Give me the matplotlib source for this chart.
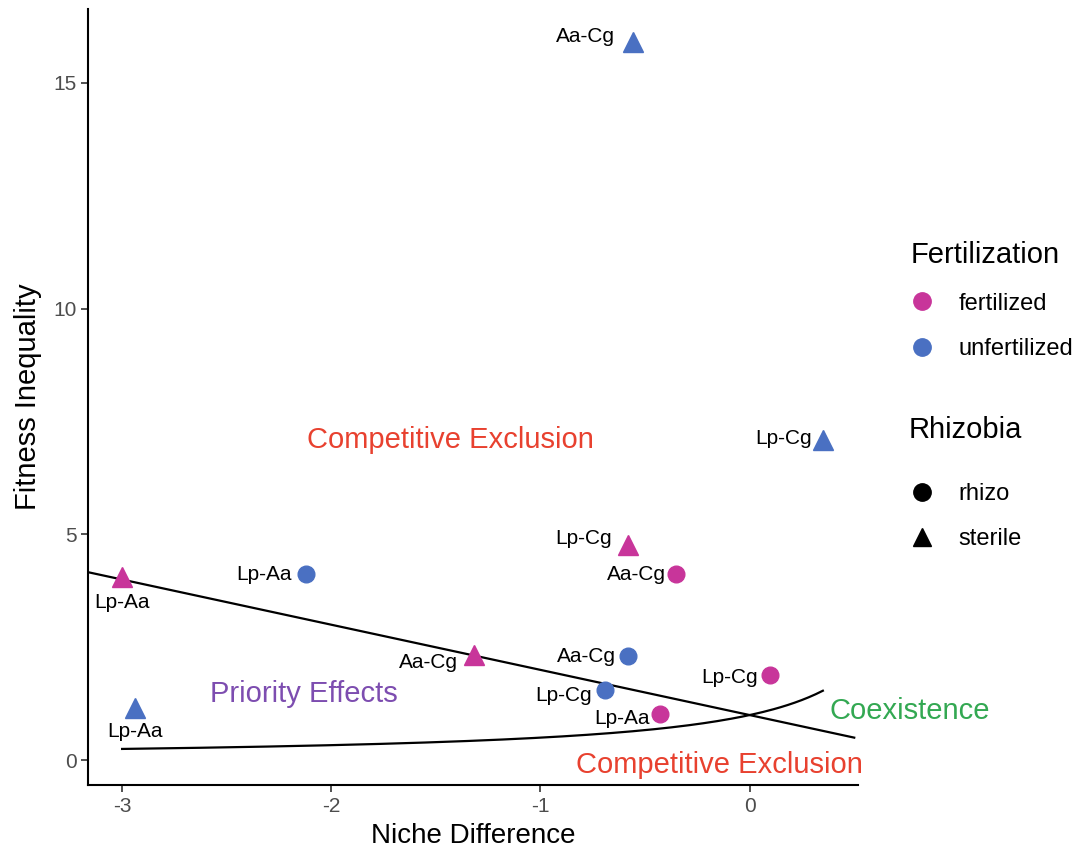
import numpy as np
import matplotlib
matplotlib.use("Agg")
import matplotlib.pyplot as plt
from matplotlib.lines import Line2D

plt.rcParams['font.family'] = ['Liberation Sans', 'DejaVu Sans']
plt.rcParams['axes.unicode_minus'] = False

# Pair data: niche difference, fitness inequality, fertilization, rhizobia
pairs = ['Aa-Cg', 'Lp-Cg', 'Lp-Cg', 'Aa-Cg', 'Lp-Aa', 'Lp-Aa',
         'Aa-Cg', 'Aa-Cg', 'Lp-Cg', 'Lp-Cg', 'Lp-Aa', 'Lp-Aa']
niche = [-0.56, 0.35, -0.58, -0.35, -3.0, -2.12,
         -1.32, -0.58, -0.69, 0.096, -0.43, -2.94]
fitness = [15.9, 7.1, 4.76, 4.12, 4.05, 4.12,
           2.32, 2.3, 1.55, 1.88, 1.02, 1.15]
fert = ['unfertilized', 'unfertilized', 'fertilized', 'fertilized', 'fertilized', 'unfertilized',
        'fertilized', 'unfertilized', 'unfertilized', 'fertilized', 'fertilized', 'unfertilized']
rhizo = ['sterile', 'sterile', 'sterile', 'rhizo', 'sterile', 'rhizo',
         'sterile', 'rhizo', 'rhizo', 'rhizo', 'rhizo', 'sterile']

# label offsets in pixels (dx, dy); dx == 0 means centred below the point
label_off = [(-18, 6), (-11, 1), (-16, 7), (-10, 0), (0, -25), (-14, 0),
             (-16, -7), (-12, 0), (-13, -5), (-12, -2), (-10, -4), (0, -23)]

colors = {'fertilized': '#C8359A', 'unfertilized': '#4A70C2'}
markers = {'rhizo': 'o', 'sterile': '^'}

fig = plt.figure(figsize=(10.76, 8.58), dpi=100)
ax = fig.add_axes([0.082, 0.085, 0.715, 0.905])

xlim = (-3.162, 0.516)
ax.set_xlim(*xlim)
ax.set_ylim(-0.55, 16.64)

# coexistence boundaries
xl = np.linspace(xlim[0], 0.5, 200)
ax.plot(xl, 1 - xl, color='black', lw=1.6, zorder=2)
xc = np.linspace(-3.0, 0.35, 200)
ax.plot(xc, 1 / (1 - xc), color='black', lw=1.6, zorder=2)

for i in range(len(pairs)):
    ms = 12 if markers[rhizo[i]] == 'o' else 14
    ax.plot(niche[i], fitness[i], marker=markers[rhizo[i]], color=colors[fert[i]],
            markersize=ms, linestyle='none', zorder=3)
    dx, dy = label_off[i]
    ha = 'center' if dx == 0 else 'right'
    ax.annotate(pairs[i], (niche[i], fitness[i]), xytext=(dx * 0.72, dy * 0.72),
                textcoords='offset points', ha=ha, va='center', fontsize=15,
                color='black', zorder=4)

ax.text(-1.43, 7.08, 'Competitive Exclusion', color='#E8412F', fontsize=21,
        ha='center', va='center')
ax.text(-0.143, -0.11, 'Competitive Exclusion', color='#E8412F', fontsize=21,
        ha='center', va='center', clip_on=False)
ax.text(-2.13, 1.46, 'Priority Effects', color='#7D4DB0', fontsize=21,
        ha='center', va='center')
ax.text(0.765, 1.08, 'Coexistence', color='#33A852', fontsize=21,
        ha='center', va='center', clip_on=False)

for s in ['top', 'right']:
    ax.spines[s].set_visible(False)
for s in ['left', 'bottom']:
    ax.spines[s].set_linewidth(1.5)
ax.set_xticks([-3, -2, -1, 0])
ax.set_yticks([0, 5, 10, 15])
ax.tick_params(labelsize=15, labelcolor='#4D4D4D', length=5, width=1.2, color='#333333')
ax.set_xlabel('Niche Difference', fontsize=20, labelpad=5)
ax.set_ylabel('Fitness Inequality', fontsize=21, labelpad=8)

# legends
h_fert = [Line2D([], [], marker='o', color=colors[k], linestyle='none', markersize=12.5)
          for k in ['fertilized', 'unfertilized']]
h_rhizo = [Line2D([], [], marker=markers[k], color='black', linestyle='none', markersize=12.5)
           for k in ['rhizo', 'sterile']]
leg_kw = dict(loc='upper left', frameon=False, fontsize=17, title_fontsize=21,
              alignment='left', labelspacing=1.0, handlelength=1.0,
              handletextpad=1.05, borderpad=0)
fig.legend(h_fert, ['fertilized', 'unfertilized'], title='Fertilization',
           bbox_to_anchor=(0.835, 0.733), **leg_kw)
fig.text(0.8445, 1 - 430 / 858, 'Rhizobia', fontsize=21, ha='left', va='center')
fig.legend(h_rhizo, ['rhizo', 'sterile'],
           bbox_to_anchor=(0.835, 1 - 471 / 858), **leg_kw)

fig.savefig('out.png', dpi=100)
